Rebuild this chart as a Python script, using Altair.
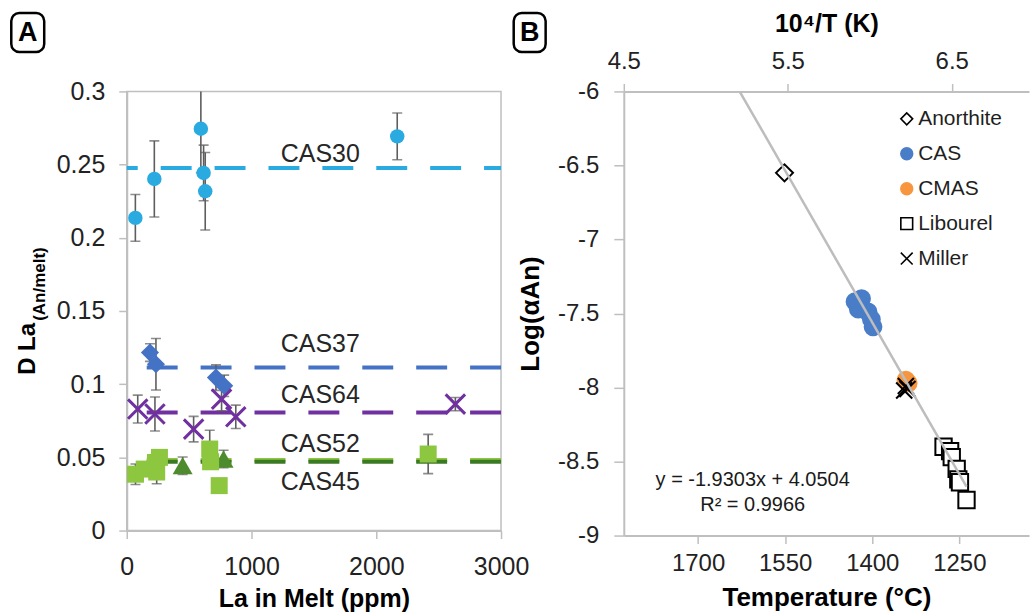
import altair as alt
import pandas as pd

FONT = "Liberation Sans"
AXIS_GREY = "#BFBFBF"
TEXT = "#1F1F1F"
ERR_GREY = "#5E5E5E"

# ---------------- Panel A: La partitioning vs La in melt ----------------
cas30_la = [69, 221, 594, 616, 629, 2168]
cas30_d = [0.2136, 0.2402, 0.2745, 0.2443, 0.2318, 0.2693]
cas30_err = [0.016, 0.026, 0.030, 0.019, 0.0265, 0.016]

cas37_la = [186, 234, 715, 781]
cas37_d = [0.1216, 0.1136, 0.1045, 0.0989]
cas37_err = [0.006, 0.0176, 0.0087, 0.0073]

cas64_la = [88, 226, 536, 760, 874, 2634]
cas64_d = [0.0830, 0.0796, 0.0693, 0.0898, 0.0777, 0.0864]
cas64_err = [0.0095, 0.0116, 0.0087, 0.0080, 0.0080, 0.0045]

cas52_la = [70, 140, 240, 230, 262, 665, 672, 741, 2416]
cas52_d = [0.0385, 0.0420, 0.0400, 0.0465, 0.0500, 0.0557, 0.0470, 0.0307, 0.0523]
cas52_err = [0.0070, 0.0, 0.0080, 0.0, 0.0, 0.0128, 0.0, 0.0, 0.0134]

cas45_la = [448, 776]
cas45_d = [0.0443, 0.0489]
cas45_err = [0.0060, 0.0060]

series_names = ["CAS30", "CAS37", "CAS64", "CAS52", "CAS45"]
series_mean = [0.2477, 0.1114, 0.0807, 0.0482, 0.0470]
label_y = [0.2575, 0.1273, 0.0925, 0.0591, 0.0330]
label_x = 1235

x_ticks_a = [0, 1000, 2000, 3000]
y_ticks_a = [0, 0.05, 0.1, 0.15, 0.2, 0.25, 0.3]

# ---------------- Panel B: Arrhenius plot ----------------
anor_x, anor_y = [5.48], [-6.55]
cas_x = [5.91, 5.95, 5.93, 5.99, 6.01, 6.02]
cas_y = [-7.42, -7.40, -7.47, -7.49, -7.54, -7.59]
cmas_x, cmas_y = [6.22, 6.235], [-7.95, -7.97]
lib_x = [6.45, 6.49, 6.50, 6.53, 6.54, 6.55, 6.59]
lib_y = [-8.40, -8.43, -8.47, -8.55, -8.62, -8.64, -8.76]
mil_x, mil_y = [6.21, 6.22, 6.23], [-8.02, -7.99, -8.01]

fit_slope, fit_intercept = -1.9303, 4.0504
fit_x = [5.207, 6.59]
fit_labels = ["y = -1.9303x + 4.0504", "R² = 0.9966"]
fit_label_x = [5.286, 5.286]
fit_label_y = [-8.628, -8.796]

x_ticks_b = [4.5, 5.5, 6.5]
y_ticks_b = [-9, -8.5, -8, -7.5, -7, -6.5, -6]
temp_ticks = [1700, 1550, 1400, 1250]

b_series = ["Anorthite", "CAS", "CMAS", "Libourel", "Miller"]
X_PATH = "M-1,-1L1,1M-1,1L1,-1"

# ======================= Panel A =======================
def frame(name, la, d, err):
    return pd.DataFrame({"series": name, "la": la, "d": d, "err": err})

pts_a = pd.concat([
    frame("CAS30", cas30_la, cas30_d, cas30_err),
    frame("CAS37", cas37_la, cas37_d, cas37_err),
    frame("CAS64", cas64_la, cas64_d, cas64_err),
    frame("CAS52", cas52_la, cas52_d, cas52_err),
    frame("CAS45", cas45_la, cas45_d, cas45_err),
], ignore_index=True)
pts_a["lo"] = pts_a["d"] - pts_a["err"]
pts_a["hi"] = pts_a["d"] + pts_a["err"]
bars_a = pts_a[pts_a["err"] > 0]
caps_a = pd.concat([
    pd.DataFrame({"la": bars_a["la"], "d": bars_a["lo"]}),
    pd.DataFrame({"la": bars_a["la"], "d": bars_a["hi"]}),
], ignore_index=True)

means_a = pd.DataFrame({"series": series_names, "d": series_mean})
labels_a = pd.DataFrame({"series": series_names, "d": label_y, "la": label_x})

x_a = alt.X("la:Q", scale=alt.Scale(domain=[0, 3000], nice=False, zero=False),
            axis=alt.Axis(values=x_ticks_a, title="La in Melt (ppm)", labelExpr="'' + datum.value",
                          tickSize=8, labelPadding=16, labelFontSize=25, titleFontSize=25,
                          titlePadding=7))
y_a = alt.Y("d:Q", scale=alt.Scale(domain=[0, 0.3], nice=False, zero=False),
            axis=alt.Axis(values=y_ticks_a, title="", labelExpr="'' + datum.value",
                          tickSize=8, labelPadding=14, labelFontSize=25))

line_colors = {"CAS30": "#29ABE2", "CAS37": "#4472C4", "CAS64": "#7030A0",
               "CAS52": "#8DC63F", "CAS45": "#3B7A25"}
dash_offsets = {"CAS30": 14, "CAS37": 0, "CAS64": 0, "CAS52": 0, "CAS45": 0}

mean_layers = []
for name in ["CAS30", "CAS37", "CAS64", "CAS52", "CAS45"]:
    mean_layers.append(
        alt.Chart(means_a).transform_filter(alt.datum.series == name)
        .mark_rule(color=line_colors[name], strokeWidth=4, strokeDash=[31, 23],
                   strokeDashOffset=dash_offsets[name])
        .encode(y=y_a)
    )

err_rules = alt.Chart(bars_a).mark_rule(color=ERR_GREY, strokeWidth=1.6, clip=True).encode(
    x=x_a, y=alt.Y("lo:Q", scale=alt.Scale(domain=[0, 0.3], nice=False, zero=False)),
    y2="hi:Q")
err_caps = alt.Chart(caps_a).mark_tick(color=ERR_GREY, orient="horizontal", size=10,
                                       thickness=1.6, clip=True).encode(x=x_a, y=y_a)

def series_points(name, **mark):
    return alt.Chart(pts_a).transform_filter(alt.datum.series == name).mark_point(
        opacity=1, **mark).encode(x=x_a, y=y_a)

p30 = series_points("CAS30", shape="circle", filled=True, color="#29ABE2", size=210)
p37 = series_points("CAS37", shape="diamond", filled=True, color="#4472C4", size=330)
p64 = series_points("CAS64", shape=X_PATH, filled=False, color="#7030A0", size=380, strokeWidth=3)
p45 = series_points("CAS45", shape="triangle-up", filled=True, color="#4E8B2F", size=400)
p52 = series_points("CAS52", shape="square", filled=True, color="#8DC63F", size=290)

labels = alt.Chart(labels_a).mark_text(align="left", baseline="middle", fontSize=25,
                                       font=FONT, color="#262626").encode(
    x=x_a, y=y_a, text="series:N")

one_row = pd.DataFrame({"k": [0]})
ytitle_main = alt.Chart(one_row).mark_text(text="D La", angle=270, font=FONT, fontSize=24,
                                           fontWeight="bold", color="black").encode(
    x=alt.value(-99), y=alt.value(258))
ytitle_sub = alt.Chart(one_row).mark_text(text="(An/melt)", angle=270, font=FONT, fontSize=17,
                                          fontWeight="bold", color="black").encode(
    x=alt.value(-87), y=alt.value(193))
box_a = alt.Chart(one_row).mark_rect(cornerRadius=8, fill="white", stroke="black",
                                     strokeWidth=2.5).encode(
    x=alt.value(-115.7), x2=alt.value(-82.7), y=alt.value(-78.5), y2=alt.value(-39.5))
letter_a = alt.Chart(one_row).mark_text(text="A", font=FONT, fontSize=27, fontWeight="bold",
                                        color="black", baseline="middle").encode(
    x=alt.value(-99.2), y=alt.value(-58.5))

panel_a = alt.layer(
    *mean_layers, err_rules, err_caps, p30, p37, p64, p45, p52, labels,
    ytitle_main, ytitle_sub, box_a, letter_a
).properties(width=375, height=440,
             view=alt.ViewBackground(stroke=AXIS_GREY, strokeWidth=1.5))

# ======================= Panel B =======================
def bframe(name, xs, ys):
    return pd.DataFrame({"series": name, "inv_t": xs, "log_a": ys})

pts_b = pd.concat([
    bframe("Anorthite", anor_x, anor_y),
    bframe("CAS", cas_x, cas_y),
    bframe("CMAS", cmas_x, cmas_y),
    bframe("Libourel", lib_x, lib_y),
    bframe("Miller", mil_x, mil_y),
], ignore_index=True)

fit_df = pd.DataFrame({"inv_t": fit_x})
fit_df["log_a"] = fit_slope * fit_df["inv_t"] + fit_intercept
eq_df = pd.DataFrame({"inv_t": fit_label_x, "log_a": fit_label_y, "txt": fit_labels})
temp_df = pd.DataFrame({"temp": temp_ticks})

inv_t_scale = alt.Scale(domain=[4.5, 4.5 + 406 / 164.3], nice=False, zero=False)
x_b = alt.X("inv_t:Q", scale=inv_t_scale,
            axis=alt.Axis(orient="top", values=x_ticks_b, title="10⁴/T (K)",
                          labelExpr="'' + datum.value", tickSize=8, labelPadding=10,
                          labelFontSize=24, titleFontSize=25, titlePadding=13))
x_b_plain = alt.X("inv_t:Q", scale=inv_t_scale, axis=None)
y_b = alt.Y("log_a:Q", scale=alt.Scale(domain=[-9, -6], nice=False, zero=False),
            axis=alt.Axis(values=y_ticks_b, title="Log(αAn)", labelExpr="'' + datum.value",
                          tickSize=10, labelPadding=15, labelFontSize=24, titleFontSize=26,
                          titlePadding=14))

legend_b = alt.Legend(orient="none", legendX=273, legendY=17, title="",
                      labelFontSize=21, labelFont=FONT, labelColor=TEXT,
                      symbolSize=140, symbolStrokeWidth=1.6, rowPadding=13,
                      labelOffset=1, padding=0)

# marker sizes are keyed in their own order so the size scale stays out of the legend
size_order = ["Miller", "Libourel", "CMAS", "CAS", "Anorthite"]
size_range = [260, 290, 190, 190, 230]

points_b = alt.Chart(pts_b).mark_point(filled=True, opacity=1, strokeWidth=2).encode(
    x=x_b, y=y_b,
    shape=alt.Shape("series:N", scale=alt.Scale(
        domain=b_series, range=["diamond", "circle", "circle", "square", X_PATH]),
        legend=legend_b),
    fill=alt.Fill("series:N", scale=alt.Scale(
        domain=b_series, range=["white", "#4A7DC8", "#F7963F", "white", "transparent"]),
        legend=legend_b),
    stroke=alt.Stroke("series:N", scale=alt.Scale(
        domain=b_series, range=["black", "#4A7DC8", "#F7963F", "black", "black"]),
        legend=legend_b),
    size=alt.Size("series:N", scale=alt.Scale(domain=size_order, range=size_range),
                  legend=None),
)

fit_line = alt.Chart(fit_df).mark_line(color="#BDBDBD", strokeWidth=2.5).encode(
    x=x_b_plain, y=y_b)
eq_text = alt.Chart(eq_df).mark_text(align="center", baseline="middle", font=FONT,
                                     fontSize=20, color="#1A1A1A").encode(
    x=x_b_plain, y=y_b, text="txt:N")

box_b = alt.Chart(one_row).mark_rect(cornerRadius=8, fill="white", stroke="black",
                                     strokeWidth=2.5).encode(
    x=alt.value(-110.3), x2=alt.value(-78.3), y=alt.value(-78.5), y2=alt.value(-39.5))
letter_b = alt.Chart(one_row).mark_text(text="B", font=FONT, fontSize=27, fontWeight="bold",
                                        color="black", baseline="middle").encode(
    x=alt.value(-94.3), y=alt.value(-58.5))

temp_axis = alt.Chart(temp_df).mark_point(opacity=0).encode(
    x=alt.X("temp:Q", scale=alt.Scale(domain=[1130, 1828], reverse=True, nice=False, zero=False),
            axis=alt.Axis(orient="bottom", values=temp_ticks, title="Temperature (°C)",
                          labelExpr="'' + datum.value", tickSize=8, labelPadding=8,
                          labelFontSize=24, titleFontSize=26, titlePadding=9)))

panel_b = alt.layer(
    points_b, fit_line, eq_text, box_b, letter_b, temp_axis
).resolve_scale(x="independent").properties(
    width=406, height=445, view=alt.ViewBackground(stroke="transparent"))

chart = alt.hconcat(panel_a, panel_b, spacing=123, bounds="flush").resolve_scale(
    shape="independent", fill="independent", stroke="independent", size="independent"
).resolve_legend(
    shape="independent", fill="independent", stroke="independent", size="independent"
).properties(
    padding={"left": 9, "top": 10, "right": 0, "bottom": 0}
).configure_axis(
    grid=False, domainColor=AXIS_GREY, domainWidth=2, tickColor=AXIS_GREY, tickWidth=1.5,
    labelFont=FONT, labelColor="#222222", titleFont=FONT, titleColor="black",
    titleFontWeight="bold", labelFlush=False
).configure_legend(labelFont=FONT)

chart.save("out.html", embed_options={"renderer": "svg", "actions": False})
